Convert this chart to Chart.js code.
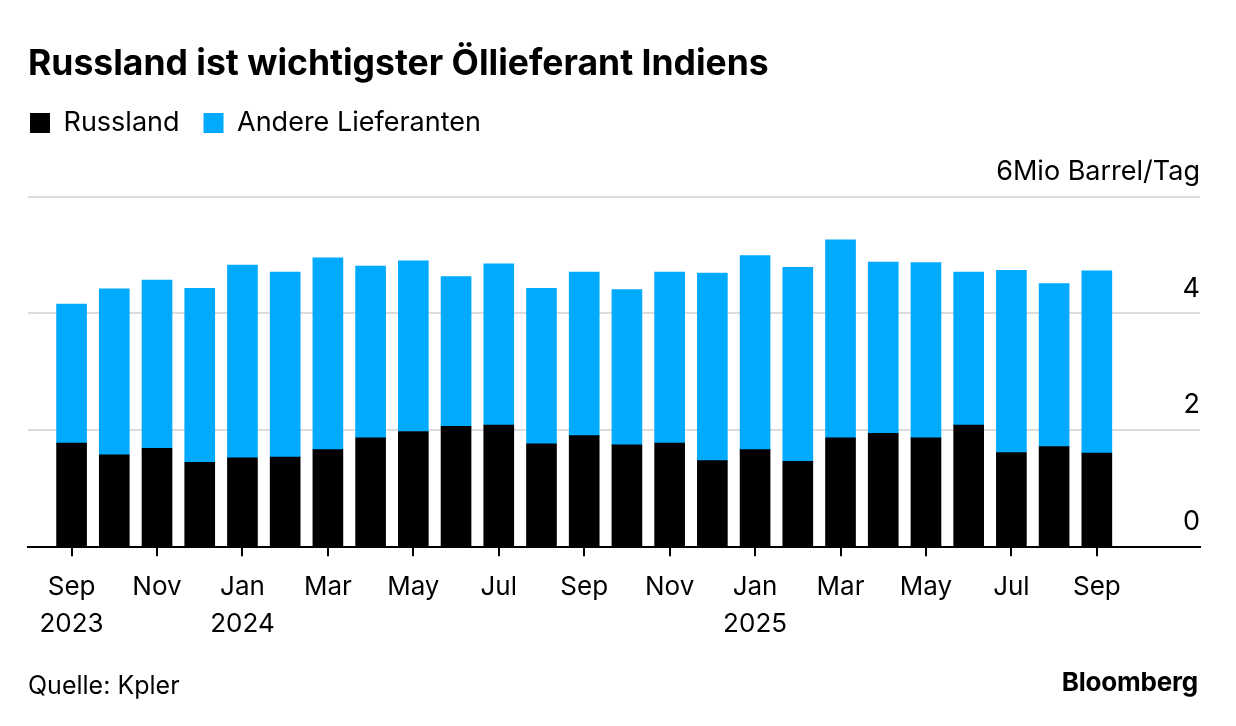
<!DOCTYPE html>
<html>
<head>
<meta charset="utf-8">
<script src="https://cdn.jsdelivr.net/npm/chart.js@4.4.1/dist/chart.umd.min.js"></script>
<style>
  html, body { margin: 0; padding: 0; background: #fff; }
  #wrap { position: relative; width: 1236px; height: 726px; overflow: hidden; font-family: Inter, "Liberation Sans", Arial, sans-serif; }
  canvas { position: absolute; left: 0; top: 0; }
  #source { position: absolute; left: 28px; top: 670px; font-size: 25px; color: #000; }
  #brand { position: absolute; right: 38px; top: 666px; font-size: 26px; font-weight: bold; color: #000; letter-spacing: -0.2px; }
</style>
</head>
<body>
<div id="wrap">
  <canvas id="c" width="1236" height="726"></canvas>
  <div id="source">Quelle: Kpler</div>
  <div id="brand">Bloomberg</div>
</div>
<script>
const categories = ['Sep 2023','Okt 2023','Nov 2023','Dez 2023','Jan 2024','Feb 2024','Mär 2024','Apr 2024','Mai 2024','Jun 2024','Jul 2024','Aug 2024','Sep 2024','Okt 2024','Nov 2024','Dez 2024','Jan 2025','Feb 2025','Mär 2025','Apr 2025','Mai 2025','Jun 2025','Jul 2025','Aug 2025','Sep 2025'];
const russland = [1.78,1.58,1.69,1.45,1.53,1.54,1.67,1.87,1.98,2.07,2.09,1.77,1.91,1.75,1.78,1.48,1.67,1.47,1.87,1.95,1.87,2.09,1.62,1.72,1.61];
const andere   = [2.38,2.84,2.88,2.98,3.30,3.17,3.28,2.94,2.92,2.56,2.76,2.66,2.80,2.66,2.93,3.21,3.32,3.32,3.39,2.93,3.00,2.62,3.12,2.79,3.12];
const tickIndex  = [0,2,4,6,8,10,12,14,16,18,20,22,24];
const tickLabels = [['Sep','2023'],'Nov',['Jan','2024'],'Mar','May','Jul','Sep','Nov',['Jan','2025'],'Mar','May','Jul','Sep'];
const yTicks = [0,2,4,6];
const yTopLabel = '6Mio Barrel/Tag';

const FONT = 'Inter, "Liberation Sans", Arial, sans-serif';

const legendSpace = {
  id: 'legendSpace',
  beforeInit(chart) {
    const orig = chart.legend.fit;
    chart.legend.fit = function() { orig.call(this); this.height += 50; };
  },
  afterLayout(chart) {
    chart.legend.left = 30 - chart.options.plugins.legend.labels.padding;
  }
};

new Chart(document.getElementById('c'), {
  type: 'bar',
  data: {
    datasets: [
      { label: 'Russland', data: russland.map((v, i) => ({ x: i, y: v })), backgroundColor: '#000000', barThickness: 30 },
      { label: 'Andere Lieferanten', data: andere.map((v, i) => ({ x: i, y: v })), backgroundColor: '#00aaff', barThickness: 30 }
    ]
  },
  plugins: [legendSpace],
  options: {
    responsive: false,
    animation: false,
    devicePixelRatio: 1,
    layout: { padding: { left: 28, right: 36, top: 0, bottom: 70 } },
    plugins: {
      title: {
        display: true, text: 'Russland ist wichtigster Öllieferant Indiens', align: 'start',
        color: '#000', font: { family: FONT, size: 35.5, weight: 'bold' }, padding: { top: 43, bottom: 0 }
      },
      legend: {
        display: true, align: 'start',
        labels: { color: '#000', boxWidth: 20, boxHeight: 20, padding: 24, font: { family: FONT, size: 27 } }
      },
      tooltip: { enabled: false }
    },
    scales: {
      x: {
        type: 'linear', stacked: true, min: -1.02, max: 26.415, offset: false,
        afterBuildTicks: (s) => { s.ticks = tickIndex.map(v => ({ value: v })); },
        ticks: {
          color: '#000', font: { family: FONT, size: 26, lineHeight: 1.42 }, padding: 13, maxRotation: 0, autoSkip: false,
          callback: (v) => { const k = tickIndex.indexOf(v); return k >= 0 ? tickLabels[k] : ''; }
        },
        grid: { display: true, offset: false, drawOnChartArea: false, drawTicks: true, tickLength: 9, color: '#000', lineWidth: 2 },
        border: { display: true, color: '#000', width: 2 }
      },
      y: {
        position: 'right', stacked: true, min: 0, max: 6,
        afterBuildTicks: (s) => { s.ticks = yTicks.map(v => ({ value: v })); },
        ticks: {
          mirror: true, padding: 0, labelOffset: -25, color: '#000', font: { family: FONT, size: 27 },
          callback: (v) => v === 6 ? yTopLabel : String(v)
        },
        grid: { color: '#dcdcdc', lineWidth: 2, drawTicks: false },
        border: { display: false }
      }
    }
  }
});
</script>
</body>
</html>
